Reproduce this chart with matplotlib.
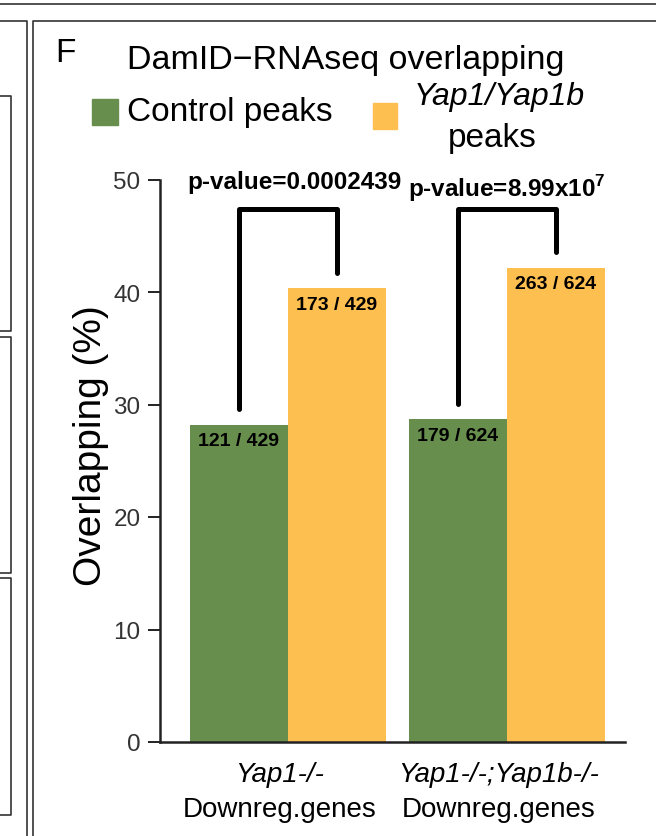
import matplotlib
matplotlib.use("Agg")
import matplotlib.pyplot as plt
from matplotlib.lines import Line2D
from matplotlib.patches import Rectangle
import numpy as np

plt.rcParams["font.family"] = ["Liberation Sans", "DejaVu Sans"]
plt.rcParams["mathtext.fontset"] = "custom"
plt.rcParams["mathtext.rm"] = "Liberation Sans"
plt.rcParams["mathtext.bf"] = "Liberation Sans:bold"

# overlap counts per group: (overlapping genes, total downregulated genes)
groups = ["Yap1-/-", "Yap1-/-;Yap1b-/-"]
group_sub = ["Downreg.genes", "Downreg.genes"]
control_hits = [121, 179]
yap_hits = [173, 263]
totals = [429, 624]
p_labels = ["p-value=0.0002439", r"p-value=8.99x10$^{\mathbf{7}}$"]
series_names = ["Control peaks", "Yap1/Yap1b"]
yticks = [0, 10, 20, 30, 40, 50]

control_pct = [100 * c / t for c, t in zip(control_hits, totals)]
yap_pct = [100 * y / t for y, t in zip(yap_hits, totals)]

green = "#688E4E"
yellow = "#FDBF50"

W, H = 656, 837
fig = plt.figure(figsize=(W / 100, H / 100), dpi=100)


def fx(px):
    return px / W


def fy(py):
    return 1 - py / H


ax = fig.add_axes([fx(160), fy(743), fx(625) - fx(160), 562.5 / H])

x = np.arange(len(groups))
bw = 0.447
ax.bar(x - bw / 2, control_pct, width=bw, color=green, linewidth=0)
ax.bar(x + bw / 2, yap_pct, width=bw, color=yellow, linewidth=0)

# counts written inside the top of each bar
for i in range(len(groups)):
    ax.text(x[i] - bw / 2, control_pct[i] - 1.4, f"{control_hits[i]} / {totals[i]}",
            ha="center", va="center", fontsize=14, fontweight="bold")
    ax.text(x[i] + bw / 2, yap_pct[i] - 1.4, f"{yap_hits[i]} / {totals[i]}",
            ha="center", va="center", fontsize=14, fontweight="bold")

# significance brackets
bracket_top = 47.4
for i in range(len(groups)):
    xl, xr = x[i] - bw / 2, x[i] + bw / 2
    ax.plot([xl, xl, xr, xr],
            [control_pct[i] + 1.4, bracket_top, bracket_top, yap_pct[i] + 1.4],
            color="black", lw=3.6, solid_capstyle="round", solid_joinstyle="round",
            clip_on=False)

ax.text(x[0] + 0.03, 49.2, p_labels[0], ha="center", va="baseline",
        fontsize=17.5, fontweight="bold")
ax.text(x[1], 48.55, p_labels[1], ha="center", va="baseline",
        fontsize=17.5, fontweight="bold")

ax.set_xlim(-0.584, 1.539)
ax.set_ylim(0, 50)
ax.set_yticks(yticks)
ax.set_xticks([])
for s in ["top", "right"]:
    ax.spines[s].set_visible(False)
for s in ["left", "bottom"]:
    ax.spines[s].set_linewidth(1.8)
    ax.spines[s].set_color("#222222")
ax.tick_params(axis="y", length=8.6, width=1.4, color="#222222", pad=5.5,
               labelsize=17.5, labelcolor="#333333")
fig.text(fx(91), fy(446), "Overlapping (%)", fontsize=28, rotation=90,
         ha="center", va="center")

# two-line group labels under the bars
trans = ax.get_xaxis_transform()
for i in range(len(groups)):
    ax.text(x[i] - 0.037, -32 / 562.5, groups[i], transform=trans, ha="center",
            va="center", fontsize=20, fontstyle="italic")
    ax.text(x[i] - 0.037, -67 / 562.5, group_sub[i], transform=trans, ha="center",
            va="center", fontsize=20)

# title, panel letter and legend
fig.text(fx(65), fy(53), "F", fontsize=24, ha="center", va="center")
fig.text(fx(346), fy(60), "DamID\u2212RNAseq overlapping", fontsize=24.5,
         ha="center", va="center")

fig.add_artist(Rectangle((fx(92), fy(126)), fx(26), 26 / H, color=green,
                         transform=fig.transFigure))
fig.text(fx(127), fy(113), series_names[0], fontsize=24, ha="left", va="center")
fig.add_artist(Rectangle((fx(373), fy(130)), fx(24), 26 / H, color=yellow,
                         transform=fig.transFigure))
fig.text(fx(499), fy(97), series_names[1], fontsize=23, ha="center", va="center",
         fontstyle="italic")
fig.text(fx(492), fy(138), "peaks", fontsize=24, ha="center", va="center")

# panel frames
frame_kw = dict(color="#333333", lw=1.2, transform=fig.transFigure)
fig.add_artist(Line2D([0, 1], [fy(4.5), fy(4.5)], **frame_kw))
fig.add_artist(Line2D([fx(33), fx(33), 1], [0, fy(22), fy(22)], **frame_kw))
fig.add_artist(Line2D([0, fx(27), fx(27)], [fy(22), fy(22), 0], **frame_kw))
for top, bottom in [(97, 332), (338, 574), (579, 816)]:
    fig.add_artist(Line2D([0, fx(11), fx(11), 0],
                          [fy(top), fy(top), fy(bottom), fy(bottom)], **frame_kw))

fig.savefig("out.png", dpi=100)
